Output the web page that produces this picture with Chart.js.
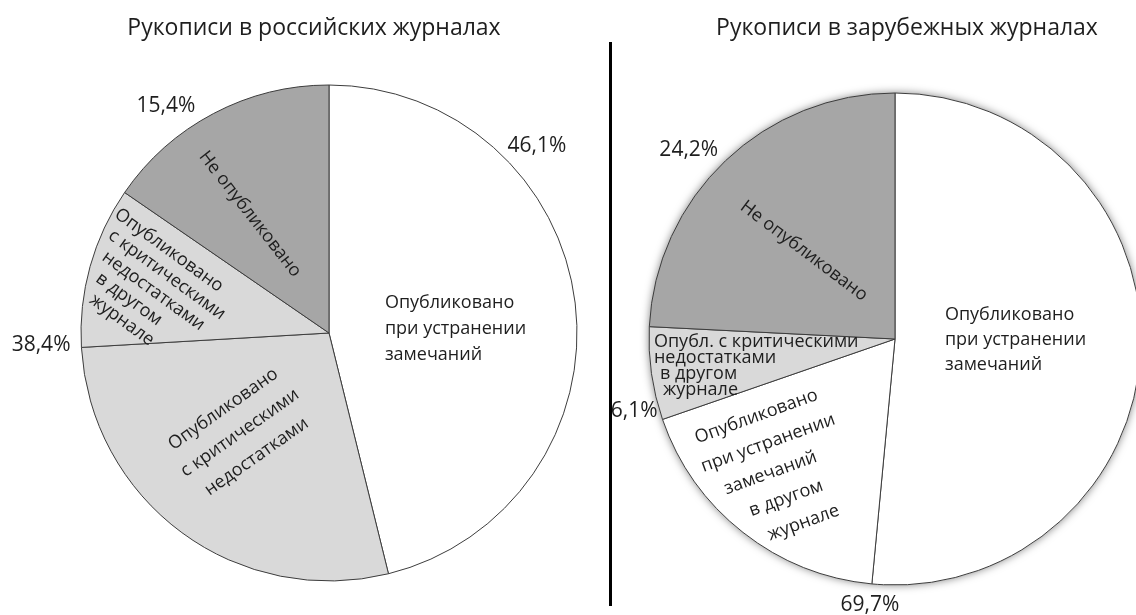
<!DOCTYPE html>
<html>
<head>
<meta charset="utf-8">
<script src="https://cdn.jsdelivr.net/npm/chart.js@4"></script>
<style>
html, body { margin: 0; padding: 0; background: #fff; overflow: hidden; width: 1136px; height: 615px; }
#leftPie { position: absolute; left: 0; top: 0; }
#rightPie { position: absolute; left: 612px; top: 0; }
#divider { position: absolute; left: 609px; top: 42px; width: 3px; height: 564px; background: #000; }
</style>
</head>
<body>
<canvas id="leftPie" width="609" height="615"></canvas>
<div id="divider"></div>
<canvas id="rightPie" width="600" height="615"></canvas>
<script>
// Рукописи в российских журналах
const leftTitle = "Рукописи в российских журналах";
const leftCategories = [
	"Опубликовано при устранении замечаний",
	"Опубликовано с критическими недостатками",
	"Опубликовано с критическими недостатками в другом журнале",
	"Не опубликовано",
];
const leftValues = [46.1, 27.9, 10.5, 15.4];
// which slices each percent label sums up
const leftPctGroups = [[0], [1, 2], [3]];

// Рукописи в зарубежных журналах
const rightTitle = "Рукописи в зарубежных журналах";
const rightCategories = [
	"Опубликовано при устранении замечаний",
	"Опубликовано при устранении замечаний в другом журнале",
	"Опубл. с критическими недостатками в другом журнале",
	"Не опубликовано",
];
const rightValues = [51.5, 18.2, 6.1, 24.2];
const rightPctGroups = [[0, 1], [2], [3]];

// text inside the slices (line breaks as in the picture)
const leftSliceLines = [
	["Опубликовано", "при устранении", "замечаний"],
	["Опубликовано", "с критическими", "недостатками"],
	["Опубликовано", "с критическими", "недостатками", "в другом", "журнале"],
	["Не опубликовано"],
];
const rightSliceLines = [
	["Опубликовано", "при устранении", "замечаний"],
	["Опубликовано", "при устранении", "замечаний", "в другом", "журнале"],
	["Опубл. с критическими", "недостатками", "в другом", "журнале"],
	["Не опубликовано"],
];

const FONT = '"Open Sans", "DejaVu Sans", sans-serif';
const TEXT_COLOR = "#1e1e1e";

function pctText(values, group) {
	let sum = group.reduce((s, i) => s + values[i], 0);
	return sum.toFixed(1).replace(".", ",") + "%";
}

// where to put the texts: angle clockwise from top (deg), distance as part of radius
const leftInnerPos = [
	{ ang: 86, rf: 0.226, rot: 0, align: "left", lh: 26 },
	{ ang: 221.7, rf: 0.54, rot: -35, align: "center", lh: 29 },
	{ ang: 289.1, rf: 0.96, rot: 36, align: "left", lh: 21, indent: [-15, -7.5, 0, 7.5, 15] },
	{ ang: 326.4, rf: 0.576, rot: 52, align: "center", lh: 20 },
];
const leftPctPos = [
	{ ang: 48, rf: 1.128 },
	{ ang: 267.6, rf: 1.162 },
	{ ang: 324.3, rf: 1.127 },
];
const rightInnerPos = [
	{ ang: 91, rf: 0.203, rot: 0, align: "left", lh: 25 },
	{ ang: 222, rf: 0.722, rot: -20, align: "center", lh: 29, indent: [0, 2, -6, 0, 8] },
	{ ang: 263.6, rf: 0.986, rot: 0, align: "left", lh: 16, indent: [0, 0, 6, 9] },
	{ ang: 314, rf: 0.515, rot: 37, align: "center", lh: 20 },
];
const rightPctPos = [
	{ ang: 185.4, rf: 1.086 },
	{ ang: 254.6, rf: 1.1 },
	{ ang: 312.5, rf: 1.137 },
];

const sliceText = {
	id: "sliceText",
	beforeDatasetsDraw(chart, args, opts) {
		if (!opts.shadow) return;
		let arc = chart.getDatasetMeta(0).data[0];
		let ctx = chart.ctx;
		ctx.save();
		ctx.shadowColor = "rgba(0,0,0,0.5)";
		ctx.shadowBlur = 8;
		ctx.beginPath();
		ctx.arc(arc.x, arc.y, arc.outerRadius, 0, Math.PI * 2);
		ctx.fillStyle = "#fff";
		ctx.fill();
		ctx.restore();
	},
	afterDatasetsDraw(chart, args, opts) {
		let ctx = chart.ctx;
		let arc = chart.getDatasetMeta(0).data[0];
		let cx = arc.x, cy = arc.y, r = arc.outerRadius;
		let at = (deg, rf) => {
			let a = (deg * Math.PI) / 180 - Math.PI / 2;
			return [cx + Math.cos(a) * r * rf, cy + Math.sin(a) * r * rf];
		};
		ctx.save();
		ctx.fillStyle = TEXT_COLOR;
		ctx.textBaseline = "middle";

		ctx.font = "23px " + FONT;
		ctx.textAlign = "center";
		ctx.fillText(opts.title, opts.titleX, 28);

		ctx.font = "18px " + FONT;
		opts.lines.forEach((lines, i) => {
			let p = opts.inner[i];
			let [x, y] = at(p.ang, p.rf);
			ctx.save();
			ctx.translate(x, y);
			ctx.rotate((p.rot * Math.PI) / 180);
			ctx.textAlign = p.align;
			lines.forEach((t, j) => {
				let dx = p.indent ? p.indent[j] : 0;
				ctx.fillText(t, dx, (j - (lines.length - 1) / 2) * p.lh);
			});
			ctx.restore();
		});

		ctx.font = "21px " + FONT;
		ctx.textAlign = "center";
		opts.groups.forEach((g, i) => {
			let p = opts.pct[i];
			let [x, y] = at(p.ang, p.rf);
			ctx.fillText(pctText(opts.values, g), x, y);
		});
		ctx.restore();
	},
};

function makePie(domId, categories, values, colors, padding, radius, extra) {
	let ctx = document.getElementById(domId).getContext("2d");
	return new Chart(ctx, {
		type: "pie",
		data: {
			labels: categories,
			datasets: [
				{
					data: values,
					backgroundColor: colors,
					borderColor: "#3c3c3c",
					borderWidth: 1,
					radius: radius,
					hoverOffset: 0,
					offset: 0,
				},
			],
		},
		options: {
			responsive: false,
			animation: false,
			devicePixelRatio: 1,
			layout: { padding: padding },
			plugins: {
				legend: { display: false },
				title: { display: false },
				tooltip: { enabled: false },
				sliceText: extra,
			},
		},
		plugins: [sliceText],
	});
}

makePie(
	"leftPie",
	leftCategories,
	leftValues,
	["#ffffff", "#d9d9d9", "#d9d9d9", "#a6a6a6"],
	{ left: 59, right: 10, top: 61, bottom: 10 },
	248,
	{
		title: leftTitle,
		titleX: 314,
		lines: leftSliceLines,
		inner: leftInnerPos,
		groups: leftPctGroups,
		values: leftValues,
		pct: leftPctPos,
		shadow: false,
	}
);

makePie(
	"rightPie",
	rightCategories,
	rightValues,
	["#ffffff", "#ffffff", "#d9d9d9", "#a6a6a6"],
	{ left: 10, right: 44, top: 73, bottom: 10 },
	246,
	{
		title: rightTitle,
		titleX: 295,
		lines: rightSliceLines,
		inner: rightInnerPos,
		groups: rightPctGroups,
		values: rightValues,
		pct: rightPctPos,
		shadow: true,
	}
);
</script>
</body>
</html>
